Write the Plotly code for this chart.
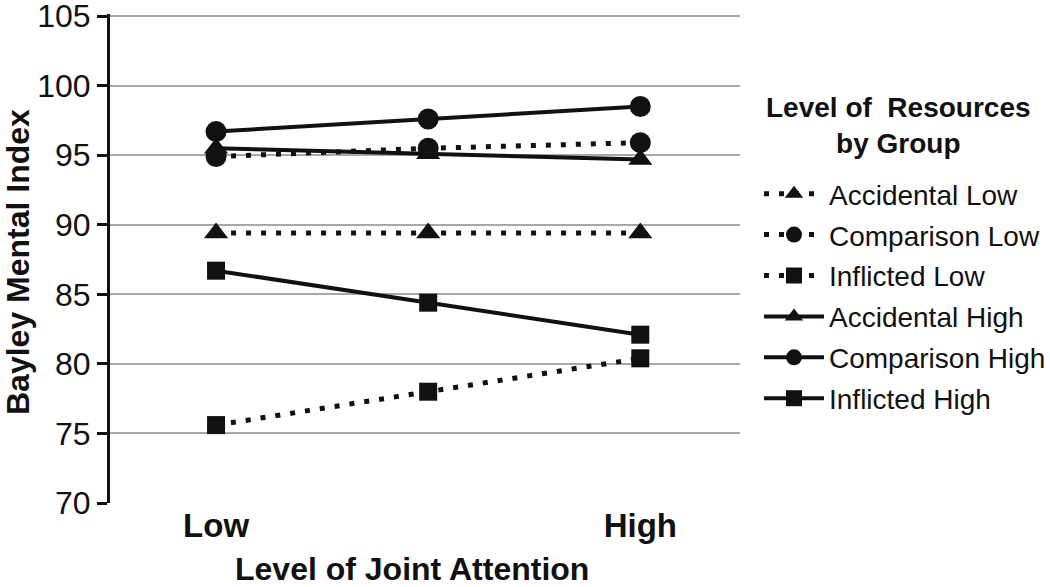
import plotly.graph_objects as go

x_positions = [0, 1, 2]
x_ticklabels = ["Low", "", "High"]
y_ticks = [70, 75, 80, 85, 90, 95, 100, 105]

series_names = ["Accidental Low", "Comparison Low", "Inflicted Low",
                "Accidental High", "Comparison High", "Inflicted High"]
accidental_low = [89.4, 89.4, 89.4]
comparison_low = [94.9, 95.5, 95.9]
inflicted_low = [75.6, 78.0, 80.4]
accidental_high = [95.5, 95.1, 94.7]
comparison_high = [96.7, 97.6, 98.5]
inflicted_high = [86.7, 84.4, 82.1]

values = [accidental_low, comparison_low, inflicted_low,
          accidental_high, comparison_high, inflicted_high]
symbols = ["triangle-up", "circle", "square", "triangle-up", "circle", "square"]
marker_sizes = {"triangle-up": 21, "circle": 21, "square": 18}
dashes = ["5px,10px", "5px,10px", "5px,10px", "solid", "solid", "solid"]

# plot area in window pixels: x 110..740, y 14..503
L, R, T, B = 110, 740, 14, 503


def px(xw):
    return (xw - L) / (R - L)


def py(yw):
    return (B - yw) / (B - T)


fig = go.Figure()
for i, (name, vals, sym, dash) in enumerate(zip(series_names, values, symbols, dashes)):
    fig.add_trace(go.Scatter(
        x=x_positions, y=vals, name=name, mode="lines+markers",
        legendgroup=f"g{i}",
        line=dict(color="#111111", width=5 if dash != "solid" else 4, dash=dash),
        marker=dict(symbol=sym, size=marker_sizes[sym], color="#111111"),
    ))

fig.update_layout(
    width=1050, height=587,
    paper_bgcolor="white", plot_bgcolor="white",
    margin=dict(l=L, r=1050 - R, t=T, b=587 - B, autoexpand=False),
    font=dict(family="Liberation Sans, Arial, sans-serif", color="#111111"),
    showlegend=True,
    legend=dict(
        x=px(759), y=py(169), xanchor="left", yanchor="top",
        font=dict(size=28), traceorder="grouped", tracegroupgap=1.5,
        itemwidth=60,
    ),
    xaxis=dict(
        range=[-0.5, 2.47], tickmode="array", tickvals=x_positions,
        ticktext=[f"<b>{t}</b>" if t else "" for t in x_ticklabels],
        showgrid=False, zeroline=False, showline=False, ticks="",
        automargin=False, tickfont=dict(size=33),
    ),
    yaxis=dict(
        range=[70, 105.15], tickmode="array", tickvals=y_ticks,
        showgrid=True, gridcolor="#a8a8a8", gridwidth=1.5,
        zeroline=False, showline=True, linecolor="#111111", linewidth=3,
        ticks="outside", ticklen=10, tickwidth=2.5, tickcolor="#111111",
        tickfont=dict(size=32), automargin=False, ticklabeloverflow="allow",
    ),
    annotations=[
        dict(text="<b>Bayley Mental Index</b>", xref="paper", yref="paper",
             x=px(18), y=py(262), xanchor="center", yanchor="middle",
             textangle=-90, showarrow=False, font=dict(size=32)),
        dict(text="<b>Level of Joint Attention</b>", xref="paper", yref="paper",
             x=px(412), y=py(569), xanchor="center", yanchor="middle",
             showarrow=False, font=dict(size=32)),
        dict(text="<b>Level of  Resources<br>by Group</b>", xref="paper", yref="paper",
             x=px(898), y=py(125), xanchor="center", yanchor="middle",
             align="center", showarrow=False, font=dict(size=28)),
    ],
)

fig.write_html("out.html", config={"displayModeBar": False},
               post_script="document.body.style.margin='0';")
